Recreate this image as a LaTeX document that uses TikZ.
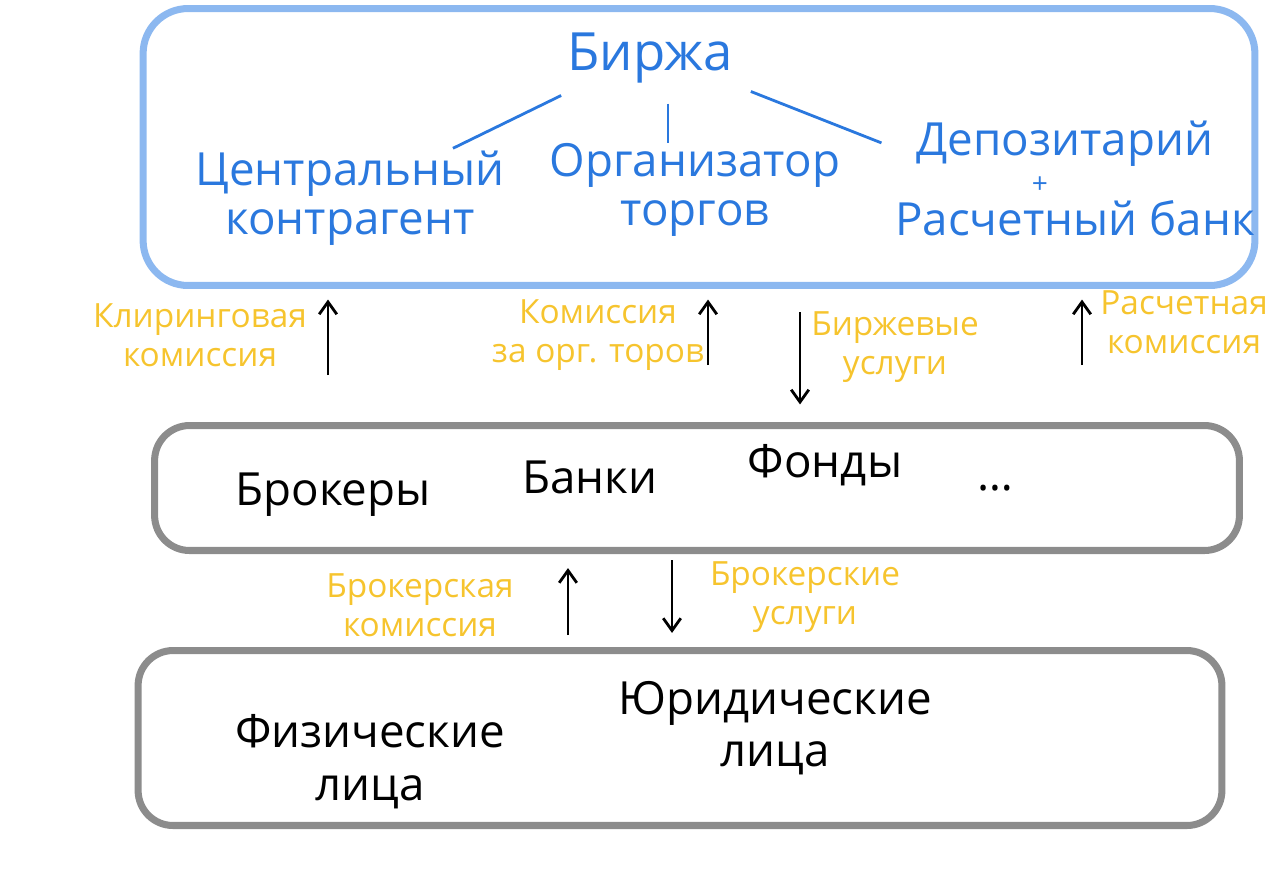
\documentclass[tikz,border=0pt]{standalone}
\usepackage{fontspec}
\setmainfont{Open Sans}
\usetikzlibrary{arrows.meta,positioning}

\definecolor{sinij}{HTML}{2A78DE}
\definecolor{ramka}{HTML}{8CB8F0}
\definecolor{zhelt}{HTML}{F6C42E}
\definecolor{seryj}{HTML}{8C8C8C}

\begin{document}
\begin{tikzpicture}[x=0.02cm,y=-0.02cm,
    ramkab/.style={draw=ramka, line width=4pt, rounded corners=0.9cm},
    ramkas/.style={draw=seryj, line width=4pt, rounded corners=0.7cm},
    tsin/.style={text=sinij, font=\fontsize{26}{28}\selectfont, align=center, inner sep=0pt},
    tchern/.style={text=black, font=\fontsize{26}{30}\selectfont, align=center, inner sep=0pt},
    tzhel/.style={text=zhelt, font=\fontsize{19}{22}\selectfont, align=center, inner sep=0pt},
    strelka/.style={-{Straight Barb[length=7pt,width=10pt]}, line width=1.6pt},
    linija/.style={sinij, line width=1.6pt}]

    \useasboundingbox (0,0) rectangle (1280,877);

    % ramki
    \node[ramkab, minimum width=22.24cm, minimum height=5.54cm] (birzha) at (699,147) {};
    \node[ramkas, minimum width=21.7cm, minimum height=2.5cm] (sred) at (697,488) {};
    \node[ramkas, minimum width=21.68cm, minimum height=3.5cm] (niz) at (680,738) {};

    % birzha i eyo chasti
    \node[tsin, font=\fontsize{30}{32}\selectfont] (bir) at (650,58) {Биржа};
    \node[tsin] (ck) at (350,198) {Центральный\\контрагент};
    \node[tsin] (ot) at (695,190) {Организатор\\торгов};
    \node[tsin] (dep) at (1065,144) {Депозитарий};
    \node[tsin, font=\fontsize{16}{18}\selectfont] (plus) at (1040,185) {+};
    \node[tsin] (rb) at (1075,218) {Расчетный банк};

    \draw[linija] ([shift={(-6,12)}]bir.south west) -- ([shift={(-52,-2)}]ck.north east);
    \draw[linija] ([shift={(18,20)}]bir.south) -- ([shift={(18,0)}]bir.south |- ot.north);
    \draw[linija] ([shift={(18,8)}]bir.south east) -- ([shift={(-35,22)}]dep.north west);

    % uchastniki
    \node[tchern] (brok) at (333,495) {Брокеры};
    \node[tchern] (bank) at (590,477) {Банки};
    \node[tchern] (fond) at (825,465) {Фонды};
    \node[tchern] (dots) at (995,488) {\dots};

    \node[tchern] (fiz) at (370,762) {Физические\\лица};
    \node[tchern] (yur) at (775,728) {Юридические\\лица};

    % strelki
    \coordinate (s1) at (328,375);
    \coordinate (s2) at (708,365);
    \coordinate (s3) at (800,312);
    \coordinate (s4) at (1082,365);
    \coordinate (s5) at (568,635);
    \coordinate (s6) at (672,560);

    \draw[strelka, shorten >=6pt] (s1) -- (s1 |- birzha.south);
    \draw[strelka, shorten >=6pt] (s2) -- (s2 |- birzha.south);
    \draw[strelka, shorten >=10pt] (s3) -- (s3 |- sred.north);
    \draw[strelka, shorten >=6pt] (s4) -- (s4 |- birzha.south);
    \draw[strelka, shorten >=8pt] (s5) -- (s5 |- sred.south);
    \draw[strelka, shorten >=8pt] (s6) -- (s6 |- niz.north);

    % podpisi
    \node[tzhel] (klir) at (200,335) {Клиринговая\\комиссия};
    \node[tzhel] (kom) at (598,335) {Комиссия\\за орг. торов};
    \node[tzhel] (bu) at (895,347) {Биржевые\\услуги};
    \node[tzhel, anchor=west] (rk) at (1100,322) {Расчетная\\комиссия};
    \node[tzhel] (bk) at (420,605) {Брокерская\\комиссия};
    \node[tzhel] (bus) at (805,597) {Брокерские\\услуги};

\end{tikzpicture}
\end{document}
